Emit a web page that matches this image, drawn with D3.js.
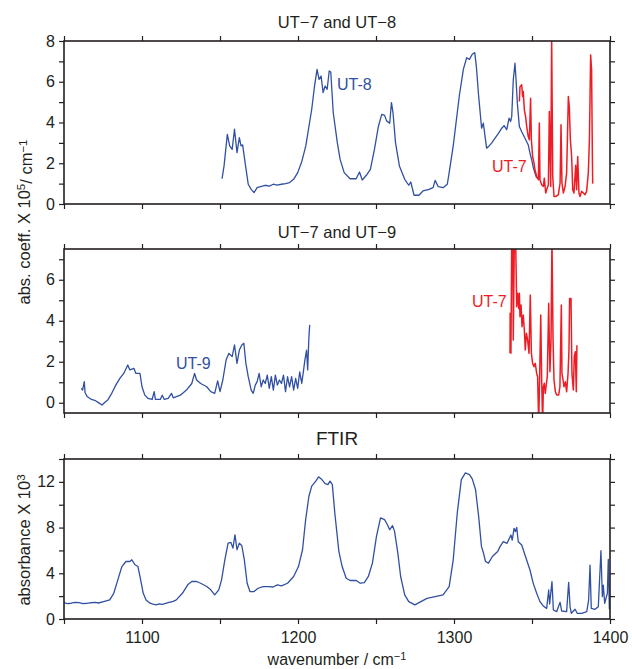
<!DOCTYPE html>
<html>
<head>
<meta charset="utf-8">
<script src="https://cdn.jsdelivr.net/npm/d3@7"></script>
<style>
  body { margin: 0; background: #fff; }
  svg text { font-family: "Liberation Sans", Arial, Helvetica, sans-serif; fill: #231f20; }
  .axis line { stroke: #231f20; stroke-width: 1.2; }
  .axis text { font-size: 16px; }
</style>
</head>
<body>
<script>
// tick values
var xTicks = [1050, 1100, 1150, 1200, 1250, 1300, 1350, 1400];
var xTickLabels = [1100, 1200, 1300, 1400];
var y1Ticks = [0, 1, 2, 3, 4, 5, 6, 7, 8];
var y1Labels = [0, 2, 4, 6, 8];
var y2Ticks = [0, 1, 2, 3, 4, 5, 6, 7];
var y2Labels = [0, 2, 4, 6];
var y3Ticks = [0, 2, 4, 6, 8, 10, 12, 14];
var y3Labels = [0, 4, 8, 12];

// UT-8 (panel 1, blue) [wavenumber, abs. coeff]
var ut8 = [[1151.3,1.24],[1152.6,1.87],[1154.7,3.42],[1156.2,2.85],[1157.8,2.68],[1159.3,3.67],[1160.9,2.52],[1162.4,3.26],[1163.5,2.85],[1164.5,2.9],[1166.1,2.03],[1168.1,0.97],[1170,0.72],[1171.8,0.56],[1173.8,0.8],[1176,0.85],[1179,0.92],[1181.5,0.88],[1184.2,0.97],[1186.5,0.93],[1189.4,0.97],[1192,1.0],[1194.6,1.05],[1197.2,1.21],[1199.8,1.54],[1202.5,2.1],[1205,2.85],[1208.8,4.65],[1210.6,5.79],[1212.2,6.61],[1213.5,6.12],[1214.8,6.28],[1216.1,5.47],[1217.4,5.79],[1218.7,5.63],[1220,6.53],[1221,6.48],[1222.6,4.48],[1225.2,3.01],[1227,2.19],[1229.6,1.54],[1233.4,1.24],[1237.3,1.24],[1239.4,1.57],[1241.2,1.18],[1243.8,1.41],[1246.4,1.7],[1249,2.68],[1251.6,3.83],[1253.7,4.4],[1255.5,4.35],[1256.8,4.08],[1258.8,3.96],[1259.9,4.98],[1260.9,4.48],[1262.5,3.01],[1265,1.87],[1268.4,1.21],[1271,0.92],[1272.3,1.08],[1274.4,0.43],[1277.5,0.43],[1280.1,0.64],[1284,0.72],[1286.6,0.8],[1287.9,1.16],[1289.9,0.85],[1293,0.8],[1295.7,0.97],[1296.9,1.54],[1299.5,2.85],[1303.4,5.3],[1306,6.61],[1308.1,7.18],[1309.9,7.1],[1311.7,7.35],[1313.3,7.43],[1314.3,6.78],[1315.8,5.3],[1317.7,3.72],[1318.8,3.97],[1320.9,2.74],[1322.5,2.85],[1324.1,2.99],[1326.3,3.23],[1328.4,3.45],[1330.6,3.72],[1332.1,3.85],[1333.8,3.65],[1335.3,4.21],[1336.3,4.05],[1337,4.3],[1338,6.09],[1339.1,6.91],[1339.7,6.2],[1340.6,4.95],[1341.9,3.8],[1343.4,3.55],[1345.5,3.23],[1347.6,2.9],[1348.7,2.5],[1349.8,2.17],[1350.8,1.8],[1351.9,1.52],[1353,1.27]];

// UT-7 (panel 1, red)
var ut7a = [[1341.9,5.03],[1342.3,5.76],[1343.4,5.85],[1344.0,5.27],[1344.4,5.52],[1345.1,4.62],[1345.9,4.29],[1346.6,3.8],[1347.6,3.31],[1348.3,3.15],[1349.1,5.19],[1349.6,3.15],[1350.4,2.33],[1351.3,2.01],[1351.9,1.68],[1353.0,1.35],[1354.1,1.19],[1354.7,3.97],[1355.1,1.19],[1356.2,0.95],[1357.3,0.86],[1357.9,1.27],[1358.8,0.54],[1359.4,0.7],[1360.5,0.95],[1361.1,4.54],[1362.0,0.86],[1362.6,8.2],[1363.3,1.35],[1364.1,0.37],[1365.4,0.37],[1366.9,0.46],[1368.0,1.03],[1368.6,3.89],[1369.2,1.03],[1370.1,0.54],[1371.2,0.86],[1372.2,1.52],[1373.3,5.27],[1373.9,4.78],[1374.6,3.15],[1375.4,2.33],[1376.1,0.7],[1376.9,0.54],[1378.0,1.9],[1378.6,0.7],[1379.3,2.33],[1380.1,0.54],[1380.8,0.37],[1381.8,0.62],[1382.9,0.54],[1384.0,0.46],[1385.0,0.62],[1386.1,1.52],[1386.8,3.15],[1387.6,7.31],[1388.2,6.58],[1388.7,2.33],[1388.9,1.0]];

// UT-9 (panel 2, blue)
var ut9 = [[1061.1,0.7],[1061.9,0.62],[1063.0,1.03],[1063.5,0.49],[1065.0,0.29],[1067.6,0.16],[1070.2,0.1],[1072.8,-0.03],[1074.4,-0.11],[1075.9,0],[1078.0,0.13],[1080.6,0.46],[1083.2,0.86],[1085.8,1.19],[1088.3,1.43],[1090.9,1.84],[1092.2,1.6],[1094.8,1.68],[1096.1,1.43],[1098.7,1.43],[1100.0,0.78],[1101.8,0.37],[1103.9,0.21],[1106.5,0.16],[1107.8,0.54],[1108.6,0.16],[1111.7,0.16],[1113.0,0.37],[1114.3,0.16],[1116.8,0.21],[1118.9,0.46],[1120.0,0.24],[1124.6,0.37],[1128.5,0.62],[1131.9,0.94],[1133.7,1.43],[1135.0,1.11],[1137.6,0.94],[1141.5,0.78],[1144.1,0.54],[1146.6,0.46],[1148.5,1.07],[1150.0,0.54],[1151.8,1.11],[1153.9,2.08],[1155.7,2.41],[1157.8,2.25],[1159.3,2.82],[1160.9,1.92],[1162.4,2.57],[1164.0,2.82],[1165.3,2.9],[1166.6,1.92],[1168.1,1.27],[1170.0,0.62],[1171.3,0.46],[1172.6,0.86],[1173.8,1.03],[1175.1,1.43],[1176.4,0.78],[1177.7,1.11],[1179.0,0.94],[1180.3,1.35],[1181.6,0.7],[1182.9,1.27],[1184.2,0.62],[1185.5,1.35],[1186.8,0.86],[1188.1,1.11],[1189.4,0.94],[1190.7,1.35],[1192.0,0.54],[1193.3,1.27],[1194.6,0.78],[1195.9,1.27],[1197.2,0.62],[1198.5,1.19],[1199.8,0.7],[1201.1,1.51],[1202.4,0.94],[1203.6,1.6],[1204.4,2.08],[1205.5,2.57],[1206.2,1.6],[1207.0,3.22],[1207.5,3.8]];

// UT-7 (panel 2, red)
var ut7b = [[1335.9,2.41],[1336.0,4.36],[1336.5,2.41],[1337.0,8],[1337.6,8],[1338.0,3.06],[1338.7,8],[1339.5,8],[1340.2,4.68],[1340.8,5.34],[1341.5,4.6],[1341.9,5.34],[1342.3,4.2],[1343.0,4.77],[1343.6,3.71],[1344.4,4.28],[1345.1,3.55],[1345.7,2.57],[1346.4,3.39],[1347.2,3.06],[1348.1,2.41],[1348.9,5.25],[1349.6,2.41],[1350.4,1.92],[1351.3,1.76],[1352.1,1.92],[1353.0,1.43],[1353.6,1.27],[1354.3,-1],[1354.9,1.27],[1355.6,4.28],[1356.2,1.11],[1356.8,-1],[1357.3,0.78],[1357.9,0.95],[1358.5,0.46],[1359.0,0.78],[1359.8,1.27],[1360.7,4.85],[1361.1,3.06],[1361.5,1.51],[1362.2,3.06],[1362.8,8],[1363.5,3.06],[1364.1,1.11],[1365.0,0.54],[1365.8,0.38],[1367.1,0.38],[1367.9,0.78],[1368.8,4.77],[1369.2,1.43],[1369.9,1.11],[1370.5,0.78],[1371.4,1.02],[1372.2,0.54],[1373.1,1.43],[1373.7,2.57],[1374.1,5.09],[1375.0,5.09],[1375.6,1.43],[1376.5,0.62],[1377.1,2.25],[1377.8,2.49],[1378.4,0.54],[1378.8,2.81]];

// FTIR absorbance (panel 3)
var ftir = [[1050.0,1.43],[1052,1.35],[1054.7,1.38],[1057,1.45],[1059.8,1.43],[1062,1.35],[1065.0,1.38],[1067,1.42],[1070.2,1.45],[1072,1.4],[1075.4,1.52],[1079.3,1.67],[1081.9,2.25],[1084.5,3.42],[1087.1,4.59],[1089.7,5.03],[1092.2,5.03],[1093.5,5.18],[1094.8,4.9],[1095.5,4.75],[1097.4,4.59],[1098.7,3.72],[1100.8,2.25],[1102.6,1.67],[1105.2,1.38],[1107,1.3],[1109.1,1.23],[1111,1.32],[1113.0,1.28],[1116.8,1.43],[1120,1.55],[1122.0,1.67],[1125.9,2.25],[1129.3,2.99],[1131.9,3.28],[1135.0,3.28],[1137.6,3.13],[1141.5,2.84],[1144.1,2.55],[1146.6,2.11],[1149.2,2.55],[1151.0,3.42],[1153.1,5.18],[1155.2,6.64],[1157.0,6.7],[1158.3,6.2],[1159.6,7.37],[1160.9,6.06],[1162.4,6.64],[1164.0,6.41],[1165.6,5.18],[1167.4,3.13],[1169.2,2.4],[1171.8,2.4],[1174.4,2.69],[1177.7,2.84],[1181.6,2.84],[1184,2.8],[1186.8,2.99],[1189.4,2.9],[1193.3,3.13],[1197.2,3.72],[1200.3,4.59],[1202.9,6.06],[1204.9,8.69],[1207.0,10.74],[1208.8,11.62],[1211.4,12.06],[1213.2,12.44],[1215.3,12.2],[1217.4,11.85],[1219.2,11.76],[1220.5,12.06],[1222.0,11.76],[1223.6,9.28],[1226.2,5.91],[1228.3,4.59],[1230.9,3.57],[1233.4,3.37],[1237.3,3.37],[1239.9,3.13],[1242.5,3.19],[1245.1,3.72],[1247.7,4.89],[1250.3,7.23],[1252.9,8.84],[1255.5,8.69],[1257.3,8.25],[1258.8,7.81],[1260.6,8.17],[1261.9,7.67],[1264.0,5.77],[1265.8,3.72],[1268.4,2.11],[1271.0,1.52],[1274.9,1.23],[1278.8,1.52],[1282.7,1.81],[1287.9,1.96],[1293.0,2.11],[1296.9,2.84],[1299.5,5.18],[1302.1,9.28],[1304.7,12.2],[1307.3,12.79],[1309.9,12.64],[1311.7,12.26],[1313.8,11.33],[1315.8,8.98],[1317.6,6.35],[1318.9,5.77],[1320.2,5.03],[1322.1,4.89],[1324.6,5.47],[1328.0,5.91],[1329.5,6.33],[1331.6,6.77],[1334,6.62],[1336.5,7.35],[1337.3,6.91],[1338.5,7.93],[1339.4,7.64],[1340.2,8.02],[1341.2,6.76],[1343.4,6.47],[1345.5,5.6],[1348.7,4.29],[1350.8,3.12],[1353.0,2.25],[1355.1,1.52],[1357.2,1.14],[1359.4,0.93],[1360.7,2.54],[1361.3,1.31],[1362.8,3.27],[1363.7,0.79],[1365.8,0.64],[1368.0,1.46],[1369.0,0.7],[1372.2,0.64],[1373.5,3.21],[1374.4,1.08],[1375.2,0.5],[1377.6,0.85],[1379,0.5],[1381.9,0.5],[1385.1,0.64],[1386.3,1.66],[1387.2,4.72],[1388.0,0.93],[1390.4,0.85],[1392.5,1.08],[1394.2,5.98],[1395.1,1.95],[1395.7,2.97],[1396.6,1.37],[1398.3,2.25],[1398.9,5.22],[1399.6,0.85]];

var blue = "#3150a2", red = "#ee1d25";

var svg = d3.select("body").append("svg")
    .attr("width", 632)
    .attr("height", 669);

var x = d3.scaleLinear().domain([1050, 1400]).range([64, 610]);

var panels = [
    { top: 41, bottom: 204, domain: [0, 8], ticks: y1Ticks, labels: y1Labels,
      title: "UT\u22127 and UT\u22128", titleY: 28, titleSize: 16.5,
      series: [{ data: ut8, color: blue, name: "UT-8", at: [1225, 5.6] },
               { data: ut7a, color: red, name: "UT-7", at: [1324.4, 1.57] }] },
    { top: 249, bottom: 413, domain: [-0.5, 7.5], ticks: y2Ticks, labels: y2Labels,
      title: "UT\u22127 and UT\u22129", titleY: 238, titleSize: 16.5,
      series: [{ data: ut9, color: blue, name: "UT-9", at: [1121.8, 1.65] },
               { data: ut7b, color: red, name: "UT-7", at: [1311.5, 4.67] }] },
    { top: 459, bottom: 619, domain: [0, 14], ticks: y3Ticks, labels: y3Labels,
      title: "FTIR", titleY: 445, titleSize: 19, xLabels: xTickLabels,
      series: [{ data: ftir, color: blue }] }
];

panels.forEach(function (p, i) {
    var y = d3.scaleLinear().domain(p.domain).range([p.bottom, p.top]);
    var g = svg.append("g");

    g.append("clipPath").attr("id", "clip" + i)
        .append("rect")
        .attr("x", x.range()[0]).attr("y", p.top)
        .attr("width", x.range()[1] - x.range()[0])
        .attr("height", p.bottom - p.top);

    var line = d3.line()
        .x(function (d) { return x(d[0]); })
        .y(function (d) { return y(d[1]); });

    p.series.forEach(function (s) {
        g.append("path")
            .datum(s.data)
            .attr("clip-path", "url(#clip" + i + ")")
            .attr("fill", "none")
            .attr("stroke", s.color)
            .attr("stroke-width", s.color == red ? 1.5 : 1.3)
            .attr("stroke-linejoin", "round")
            .attr("d", line);
        if (s.name) {
            g.append("text")
                .attr("x", x(s.at[0]))
                .attr("y", y(s.at[1]))
                .style("font-size", "16px")
                .style("fill", s.color)
                .text(s.name);
        }
    });

    var yfmt = function (d) { return p.labels.indexOf(d) >= 0 ? d : ""; };
    var xfmt = function (d) { return p.xLabels && p.xLabels.indexOf(d) >= 0 ? d : ""; };

    g.append("g").attr("class", "axis")
        .attr("transform", "translate(" + x.range()[0] + ",0)")
        .call(d3.axisLeft(y).tickValues(p.ticks).tickFormat(yfmt).tickSize(5).tickPadding(4));
    g.append("g").attr("class", "axis")
        .attr("transform", "translate(" + x.range()[1] + ",0)")
        .call(d3.axisRight(y).tickValues(p.ticks).tickFormat("").tickSize(5));
    g.append("g").attr("class", "axis")
        .attr("transform", "translate(0," + p.top + ")")
        .call(d3.axisTop(x).tickValues(xTicks).tickFormat("").tickSize(5));
    g.append("g").attr("class", "axis")
        .attr("transform", "translate(0," + p.bottom + ")")
        .call(d3.axisBottom(x).tickValues(xTicks).tickFormat(xfmt).tickSize(5).tickPadding(8));

    g.selectAll(".axis .domain").remove();
    g.selectAll(".axis text").attr("fill", null);

    // frame
    g.append("rect")
        .attr("x", x.range()[0]).attr("y", p.top)
        .attr("width", x.range()[1] - x.range()[0])
        .attr("height", p.bottom - p.top)
        .attr("fill", "none")
        .attr("stroke", "#231f20")
        .attr("stroke-width", 1.6);

    g.append("text")
        .attr("x", (x.range()[0] + x.range()[1]) / 2)
        .attr("y", p.titleY)
        .attr("text-anchor", "middle")
        .style("font-size", p.titleSize + "px")
        .text(p.title);
});

// axis titles
var yt1 = svg.append("text")
    .attr("transform", "translate(30,222) rotate(-90)")
    .attr("text-anchor", "middle")
    .style("font-size", "16.5px");
yt1.append("tspan").text("abs. coeff. X 10");
yt1.append("tspan").attr("dy", "-0.45em").style("font-size", "11.5px").text("5");
yt1.append("tspan").attr("dy", "0.45em").text("/ cm");
yt1.append("tspan").attr("dy", "-0.45em").style("font-size", "11.5px").text("\u22121");

var yt3 = svg.append("text")
    .attr("transform", "translate(30,540) rotate(-90)")
    .attr("text-anchor", "middle")
    .style("font-size", "16.5px");
yt3.append("tspan").text("absorbance X 10");
yt3.append("tspan").attr("dy", "-0.45em").style("font-size", "11.5px").text("3");

var xt = svg.append("text")
    .attr("x", 337)
    .attr("y", 665)
    .attr("text-anchor", "middle")
    .style("font-size", "16px");
xt.append("tspan").text("wavenumber / cm");
xt.append("tspan").attr("dy", "-0.45em").style("font-size", "11px").text("\u22121");
</script>
</body>
</html>
